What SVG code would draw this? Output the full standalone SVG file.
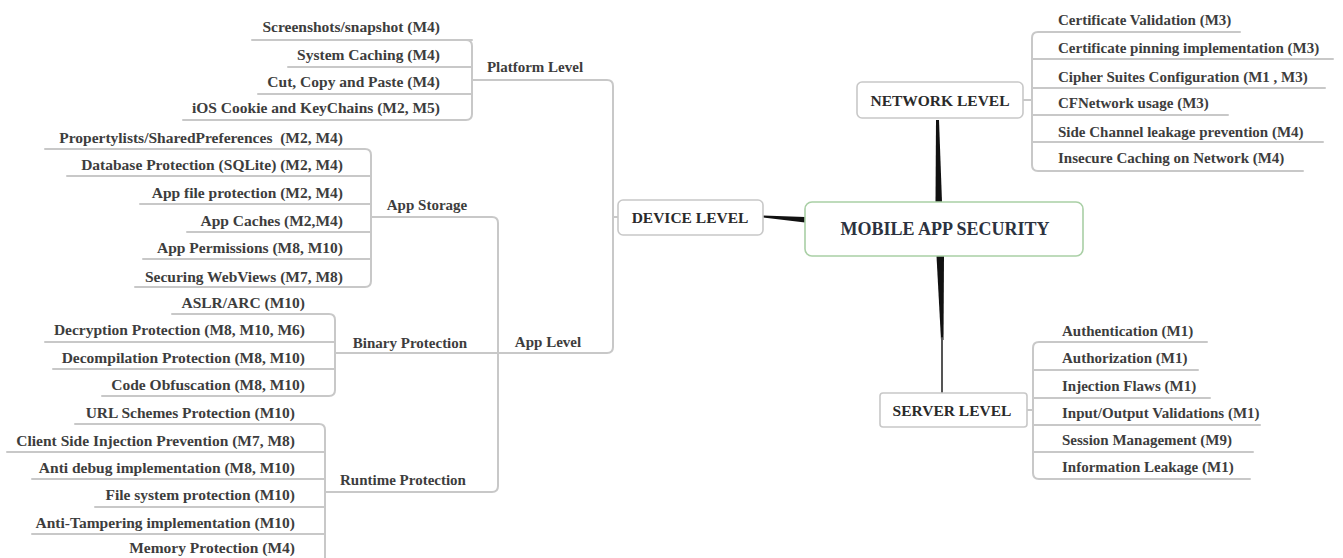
<svg xmlns="http://www.w3.org/2000/svg" width="1343" height="558" viewBox="0 0 1343 558">
<style>
.t{font-family:"Liberation Serif","Times New Roman",serif;font-weight:bold;font-size:15px;fill:#3d3d3d}
.l{text-anchor:end;font-size:15.5px}
.r{text-anchor:start}
.m{text-anchor:middle}
.ln{fill:none;stroke:#c8c8c8;stroke-width:2;stroke-linecap:round;stroke-linejoin:round}
.box{fill:#ffffff;stroke:#c8c8c8;stroke-width:1.6}
.bt{font-family:"Liberation Serif","Times New Roman",serif;font-weight:bold;font-size:15.5px;fill:#2a2a2a;text-anchor:middle}
.thick{fill:#111111;stroke:none}
</style>
<rect width="1343" height="558" fill="#ffffff"/>

<g id="connectors">
  <!-- Platform level -->
  <path class="ln" d="M252,40 H472 M288,67 H472 M258,94 H472 M183,120 H466 Q472,120 472,114 V46 Q472,40 466,40 M472,80 H607 Q613,80 613,86 V347 Q613,353 607,353 H336 M613,217 H618"/>
  <!-- App Storage -->
  <path class="ln" d="M45,149 H365 Q371,149 371,155 V281 Q371,287 365,287 H135 M67,176 H371 M140,204 H371 M187,232 H371 M143,259 H371 M371,217 H492 Q498,217 498,223 V486 Q498,492 492,492 H325"/>
  <!-- Binary -->
  <path class="ln" d="M172,314 H329 Q335,314 335,320 V390 Q335,396 329,396 H102 M45,342 H335 M53,369 H335"/>
  <!-- Runtime -->
  <path class="ln" d="M75,424 H319 Q325,424 325,430 V560 M7,452 H325 M32,479 H325 M95,507 H325 M32,534 H325"/>
  <!-- Network -->
  <path class="ln" d="M1240,32 H1038 Q1032,32 1032,38 V165 Q1032,171 1038,171 H1303 M1333,59 H1032 M1325,88 H1032 M1228,115 H1032 M1323,142 H1032 M1023,100 H1032"/>
  <!-- Server -->
  <path class="ln" d="M1207,342 H1039 Q1033,342 1033,348 V473 Q1033,479 1039,479 H1250 M1198,370 H1033 M1210,398 H1033 M1260,425 H1033 M1253,452 H1033 M1027,410 H1033"/>
  <!-- Thick root connectors -->
  <path class="thick" d="M763,215.5 L805,217 L805,222.5 L763,217.5 Z"/>
  <path class="thick" d="M936,120 L939,120 L942,202 L935.5,202 Z"/>
  <path class="thick" d="M936.5,256 L944,256 L943.5,340 L941,340 Z"/>
  <path class="ln" d="M942,338 V393" style="stroke:#555555;stroke-width:2"/>
</g>

<g id="root">
  <rect x="805" y="202" width="278" height="54" rx="7" fill="#ffffff" stroke="#a9cfa5" stroke-width="1.6"/>
  <text class="bt" x="945" y="235" style="font-size:18px;fill:#2c3240">MOBILE APP SECURITY</text>
</g>
<g id="device-level">
  <rect class="box" x="618" y="200" width="145" height="35" rx="5"/>
  <text class="bt" x="690" y="223">DEVICE LEVEL</text>
</g>
<g id="network-level">
  <rect class="box" x="857" y="82" width="166" height="36" rx="5"/>
  <text class="bt" x="940" y="106">NETWORK LEVEL</text>
</g>
<g id="server-level">
  <rect class="box" x="880" y="393" width="147" height="34" rx="3"/>
  <text class="bt" x="952" y="416">SERVER LEVEL</text>
</g>

<g id="platform-level">
  <text class="t m" x="535" y="72">Platform Level</text>
  <text class="t l" x="440" y="32">Screenshots/snapshot (M4)</text>
  <text class="t l" x="440" y="60">System Caching (M4)</text>
  <text class="t l" x="440" y="87">Cut, Copy and Paste (M4)</text>
  <text class="t l" x="440" y="113">iOS Cookie and KeyChains (M2, M5)</text>
</g>
<g id="app-level">
  <text class="t m" x="548" y="347">App Level</text>
</g>
<g id="app-storage">
  <text class="t m" x="427" y="210">App Storage</text>
  <text class="t l" x="343" y="143" xml:space="preserve">Propertylists/SharedPreferences  (M2, M4)</text>
  <text class="t l" x="343" y="170">Database Protection (SQLite) (M2, M4)</text>
  <text class="t l" x="343" y="198">App file protection (M2, M4)</text>
  <text class="t l" x="343" y="226">App Caches (M2,M4)</text>
  <text class="t l" x="343" y="253">App Permissions (M8, M10)</text>
  <text class="t l" x="343" y="282">Securing WebViews (M7, M8)</text>
</g>
<g id="binary-protection">
  <text class="t m" x="410" y="348">Binary Protection</text>
  <text class="t l" x="305" y="308">ASLR/ARC (M10)</text>
  <text class="t l" x="305" y="335">Decryption Protection (M8, M10, M6)</text>
  <text class="t l" x="305" y="363">Decompilation Protection (M8, M10)</text>
  <text class="t l" x="305" y="390">Code Obfuscation (M8, M10)</text>
</g>
<g id="runtime-protection">
  <text class="t m" x="403" y="485">Runtime Protection</text>
  <text class="t l" x="295" y="418">URL Schemes Protection (M10)</text>
  <text class="t l" x="295" y="446">Client Side Injection Prevention (M7, M8)</text>
  <text class="t l" x="295" y="473">Anti debug implementation (M8, M10)</text>
  <text class="t l" x="295" y="500">File system protection (M10)</text>
  <text class="t l" x="295" y="528">Anti-Tampering implementation (M10)</text>
  <text class="t l" x="295" y="553">Memory Protection (M4)</text>
</g>
<g id="network-items">
  <text class="t r" x="1058" y="25">Certificate Validation (M3)</text>
  <text class="t r" x="1058" y="53">Certificate pinning implementation (M3)</text>
  <text class="t r" x="1058" y="82">Cipher Suites Configuration (M1 , M3)</text>
  <text class="t r" x="1058" y="108">CFNetwork usage (M3)</text>
  <text class="t r" x="1058" y="137">Side Channel leakage prevention (M4)</text>
  <text class="t r" x="1058" y="163">Insecure Caching on Network (M4)</text>
</g>
<g id="server-items">
  <text class="t r" x="1062" y="336">Authentication (M1)</text>
  <text class="t r" x="1062" y="363">Authorization (M1)</text>
  <text class="t r" x="1062" y="391">Injection Flaws (M1)</text>
  <text class="t r" x="1062" y="418">Input/Output Validations (M1)</text>
  <text class="t r" x="1062" y="445">Session Management (M9)</text>
  <text class="t r" x="1062" y="472">Information Leakage (M1)</text>
</g>
</svg>
